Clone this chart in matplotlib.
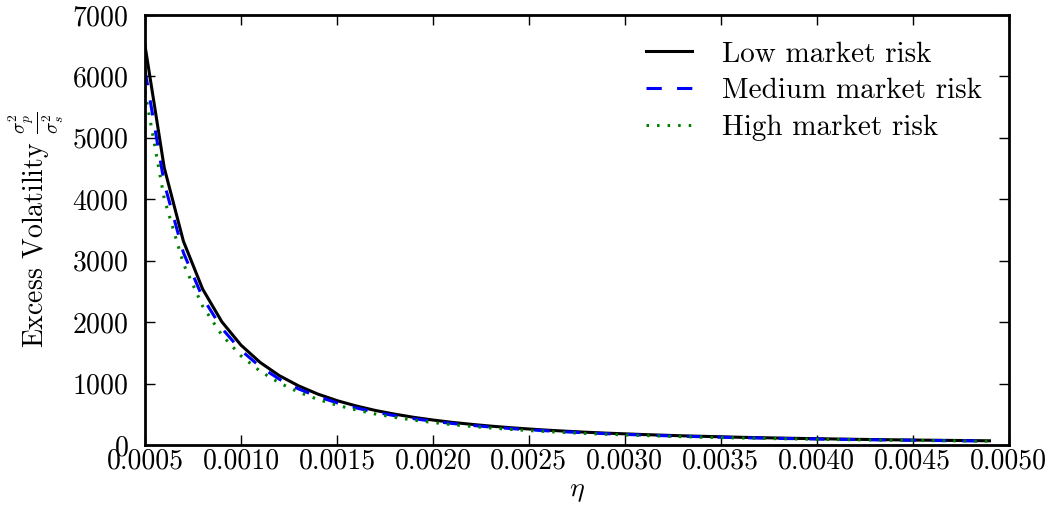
import matplotlib
matplotlib.use("Agg")
import matplotlib.pyplot as plt
from matplotlib.ticker import FormatStrFormatter, MultipleLocator

plt.rcParams["font.family"] = "serif"
plt.rcParams["font.serif"] = ["cmr10", "DejaVu Serif"]
plt.rcParams["mathtext.fontset"] = "cm"
plt.rcParams["axes.formatter.use_mathtext"] = True
plt.rcParams["axes.unicode_minus"] = False
plt.rcParams["lines.scale_dashes"] = False

# eta grid
eta = [0.0005, 0.0006, 0.0007, 0.0008, 0.0009, 0.0010, 0.0011, 0.0012, 0.0013,
       0.0014, 0.0015, 0.0016, 0.0017, 0.0018, 0.0019, 0.0020, 0.0021, 0.0022,
       0.0023, 0.0024, 0.0025, 0.0026, 0.0027, 0.0028, 0.0029, 0.0030, 0.0031,
       0.0032, 0.0033, 0.0034, 0.0035, 0.0036, 0.0037, 0.0038, 0.0039, 0.0040,
       0.0041, 0.0042, 0.0043, 0.0044, 0.0045, 0.0046, 0.0047, 0.0048, 0.0049]

# excess volatility
low_risk = [6500, 4514, 3316, 2539, 2006, 1625, 1343, 1128, 962, 829, 722, 635,
            562, 502, 450, 406, 368, 336, 307, 282, 260, 240, 223, 207, 193, 181,
            169, 159, 149, 141, 133, 125, 119, 113, 107, 102, 97, 92, 88, 84, 80,
            77, 74, 71, 68]
medium_risk = [6100, 4260, 3130, 2400, 1900, 1540, 1275, 1070, 912, 787, 686, 603,
               534, 477, 428, 386, 350, 319, 292, 268, 247, 229, 212, 197, 184, 172,
               161, 151, 142, 134, 126, 119, 113, 107, 102, 97, 92, 88, 84, 80, 76,
               73, 70, 67, 65]
high_risk = [5750, 4010, 2950, 2260, 1790, 1450, 1200, 1010, 860, 742, 647, 569,
             504, 450, 404, 365, 331, 302, 276, 254, 234, 217, 201, 187, 175, 163,
             153, 144, 135, 127, 120, 114, 108, 102, 97, 92, 88, 84, 80, 76, 73,
             70, 67, 64, 62]

fig = plt.figure(figsize=(10.54, 5.15), dpi=100)
ax = fig.add_axes([0.1376, 0.136, 0.8194, 0.835])

ax.plot(eta, low_risk, color="k", lw=2.2, label="Low market risk")
ax.plot(eta, medium_risk, color="b", lw=2.2, dashes=(11, 11), label="Medium market risk")
ax.plot(eta, high_risk, color=(0, 0.5, 0), lw=2.2, dashes=(1.8, 5.8), label="High market risk")

ax.set_xlim(0.0005, 0.0050)
ax.set_ylim(0, 7000)
ax.xaxis.set_major_locator(MultipleLocator(0.0005))
ax.xaxis.set_major_formatter(FormatStrFormatter("%.4f"))
ax.yaxis.set_major_locator(MultipleLocator(1000))

ax.tick_params(direction="in", length=7, width=1, top=True, right=True,
               labelsize=20)
ax.tick_params(axis="x", pad=2.5)
ax.tick_params(axis="y", pad=12)
for sp in ax.spines.values():
    sp.set_linewidth(2)

ax.set_xlabel(r"$\eta$", fontsize=20, labelpad=2)
ax.set_ylabel(r"Excess Volatility $\frac{\sigma_p^2}{\sigma_s^2}$", fontsize=20, labelpad=4)

ax.legend(loc="upper right", frameon=False, fontsize=21, handlelength=1.55,
          handletextpad=1.06, labelspacing=0.35, borderaxespad=0.5)

fig.savefig("out.png", dpi=100)
